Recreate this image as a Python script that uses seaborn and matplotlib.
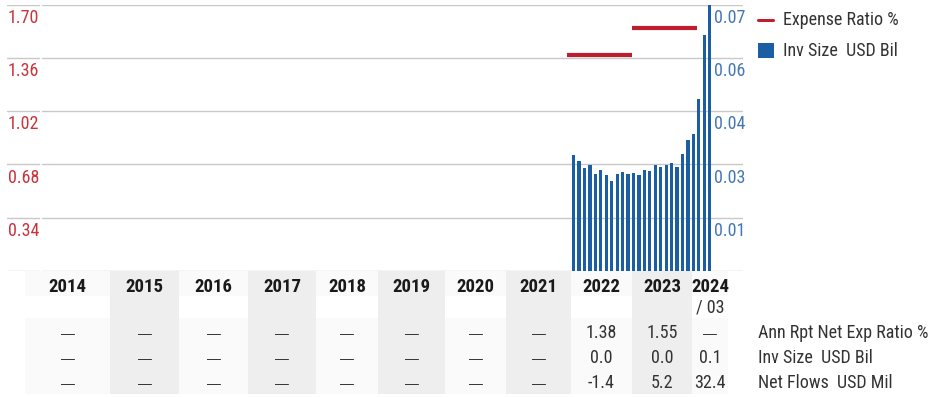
import numpy as np
import pandas as pd
import matplotlib
matplotlib.use("Agg")
import matplotlib.pyplot as plt
from matplotlib import font_manager
from matplotlib.patches import Rectangle
from matplotlib.lines import Line2D
import seaborn as sns

# ---------------------------------------------------------------- data
years = [2014, 2015, 2016, 2017, 2018, 2019, 2020, 2021, 2022, 2023, 2024]
year_sublabels = ["", "", "", "", "", "", "", "", "", "", "/ 03"]

# month-end investment size (USD bil), Feb 2022 .. Mar 2024
size_start = "2022-02"
size_end = "2024-03"
inv_size_monthly = [
    0.0314, 0.0297, 0.0278, 0.0287, 0.0262, 0.0273, 0.0260, 0.0243, 0.0262, 0.0269, 0.0262,
    0.0265, 0.0260, 0.0273, 0.0270, 0.0287, 0.0281, 0.0287, 0.0292, 0.0281, 0.0316, 0.0354, 0.0370,
    0.0465, 0.0638, 0.0722,
]

# annual table rows (None = not available)
exp_ratio = [None, None, None, None, None, None, None, None, 1.38, 1.55, None]
inv_size_annual = [None, None, None, None, None, None, None, None, 0.0, 0.0, 0.1]
net_flows = [None, None, None, None, None, None, None, None, -1.4, 5.2, 32.4]
row_labels = ["Ann Rpt Net Exp Ratio %", "Inv Size  USD Bil", "Net Flows  USD Mil"]

left_ticks = [0.34, 0.68, 1.02, 1.36, 1.70]
right_step = 0.0144          # right-axis value per gridline
legend_labels = ["Expense Ratio %", "Inv Size  USD Bil"]

# ---------------------------------------------------------------- style
RED = "#be1e2d"
BLUE = "#1b5ea3"
RED_TXT = "#c9333b"
BLUE_TXT = "#4677b5"
GRID = "#c8c8c8"
SHADE = "#eeeeee"
LIGHT = "#fafafa"
TXT = "#333333"

sns.set_theme(style="white")
installed = {f.name for f in font_manager.fontManager.ttflist}
families = [f for f in ["Roboto Condensed", "Liberation Sans Narrow", "Roboto"] if f in installed]
plt.rcParams["font.family"] = families + ["DejaVu Sans"]
narrow = bool(families) and families[0] != "Roboto"
FS = 13 if narrow else 11
FS_B = 13.5 if narrow else 12
DASH_FAMILY = ["Liberation Sans", "DejaVu Sans"]

W, H, DPI = 942, 397, 100
fig = plt.figure(figsize=(W / DPI, H / DPI), dpi=DPI)

# plot frame in pixels
PX_L, PX_R, PX_T, PX_B = 7, 743, 4.7, 271
X0_PX, MONTH_PX = 44.0, 5.443      # pixel of Jan 2014, pixels per month

ax = fig.add_axes([PX_L / W, (H - PX_B) / H, (PX_R - PX_L) / W, (PX_B - PX_T) / H])
ax2 = ax.twinx()
for a in (ax, ax2):
    a.set_xlim((PX_L - X0_PX) / MONTH_PX, (PX_R - X0_PX) / MONTH_PX)
    a.set_xticks([])
    a.set_yticks([])
    for s in a.spines.values():
        s.set_visible(False)
ax.set_ylim(0, left_ticks[-1])
ax2.set_ylim(0, right_step * len(left_ticks))
ax2.patch.set_visible(False)

# gridlines: short segment under the left labels, long one across the plot
seg_a = (39 - PX_L) / (PX_R - PX_L)
seg_b = (42 - PX_L) / (PX_R - PX_L)
for v in [0.0] + left_ticks:
    ax.axhline(v, xmin=0, xmax=seg_a, color=GRID, lw=1.0, zorder=0)
    ax.axhline(v, xmin=seg_b, xmax=1, color=GRID, lw=1.0, zorder=0)

# axis labels hanging under their gridlines
lab_l = (39 - PX_L) / (PX_R - PX_L)
lab_r = (714 - PX_L) / (PX_R - PX_L)
for i, v in enumerate(left_ticks):
    ax.annotate(f"{v:.2f}", xy=(lab_l, v), xycoords=("axes fraction", "data"),
                xytext=(0, -3), textcoords="offset points", ha="right", va="top",
                color=RED_TXT, fontsize=FS)
    rv = right_step * (i + 1)
    ax2.annotate(f"{rv:.2f}", xy=(lab_r, rv), xycoords=("axes fraction", "data"),
                 xytext=(0, -3), textcoords="offset points", ha="left", va="top",
                 color=BLUE_TXT, fontsize=FS)

# monthly bars
months = pd.period_range(size_start, size_end, freq="M")
month_idx = np.array([(p.year - years[0]) * 12 + (p.month - 1) for p in months])
bars = pd.DataFrame({"m": month_idx + 0.3, "size": inv_size_monthly})
sns.barplot(data=bars, x="m", y="size", native_scale=True, width=0.6,
            color=BLUE, saturation=1, linewidth=0, ax=ax2)
ax2.set_xlabel("")
ax2.set_ylabel("")
ax2.set_xlim((PX_L - X0_PX) / MONTH_PX, (PX_R - X0_PX) / MONTH_PX)
ax2.set_ylim(0, right_step * len(left_ticks))
ax2.set_yticks([])
ax2.set_xticks([])

# expense ratio: one flat segment per year
for y, v in zip(years, exp_ratio):
    if v is None:
        continue
    x0 = (y - years[0]) * 12
    ax.hlines(v, x0, x0 + 12, color=RED, lw=3.0, zorder=3)

# ---------------------------------------------------------------- table
tab = fig.add_axes([0, 0, 1, 1], zorder=-1)
tab.set_xlim(0, W)
tab.set_ylim(H, 0)
tab.axis("off")

col_edges = [25, 110, 179, 248, 316, 378, 445, 506, 571, 632, 692, 728]
TAB_T, HEAD_B, SUB_B, TAB_B = 271, 296, 318, 394
for i in range(len(years)):
    x0, x1 = col_edges[i], col_edges[i + 1]
    if i % 2 == 1:
        tab.add_patch(Rectangle((x0, TAB_T), x1 - x0, TAB_B - TAB_T, color=SHADE, lw=0))
    else:
        tab.add_patch(Rectangle((x0, TAB_T), x1 - x0, HEAD_B - TAB_T, color=LIGHT, lw=0))
        tab.add_patch(Rectangle((x0, SUB_B), x1 - x0, TAB_B - SUB_B, color=LIGHT, lw=0))

row_y = [333, 358, 383]
rows = [(exp_ratio, "{:.2f}"), (inv_size_annual, "{:.1f}"), (net_flows, "{:.1f}")]
for i, y in enumerate(years):
    cx = (col_edges[i] + col_edges[i + 1]) / 2
    tab.text(cx, 287, str(y), ha="center", va="center", fontsize=FS_B,
             fontweight="bold", color="#1a1a1a")
    if year_sublabels[i]:
        tab.text(cx, 308, year_sublabels[i], ha="center", va="center",
                 fontsize=FS, color=TXT)
    for (vals, fmt), ry in zip(rows, row_y):
        v = vals[i]
        if v is None:
            tab.text(cx, ry + 1, "\u2014", ha="center", va="center", fontsize=10,
                     family=DASH_FAMILY, color=TXT)
        else:
            tab.text(cx, ry, fmt.format(v), ha="center", va="center",
                     fontsize=FS, color=TXT)

for lab, ry in zip(row_labels, row_y):
    tab.text(758, ry, lab, ha="left", va="center", fontsize=FS, color=TXT)

# ---------------------------------------------------------------- legend
tab.add_line(Line2D([758, 773], [20, 20], color=RED, lw=2.2))
tab.add_patch(Rectangle((758, 43), 16, 15, color=BLUE, lw=0))
tab.text(783, 20, legend_labels[0], ha="left", va="center", fontsize=FS, color=TXT)
tab.text(783, 50.5, legend_labels[1], ha="left", va="center", fontsize=FS, color=TXT)

fig.savefig("out.png", dpi=DPI, facecolor="white")
